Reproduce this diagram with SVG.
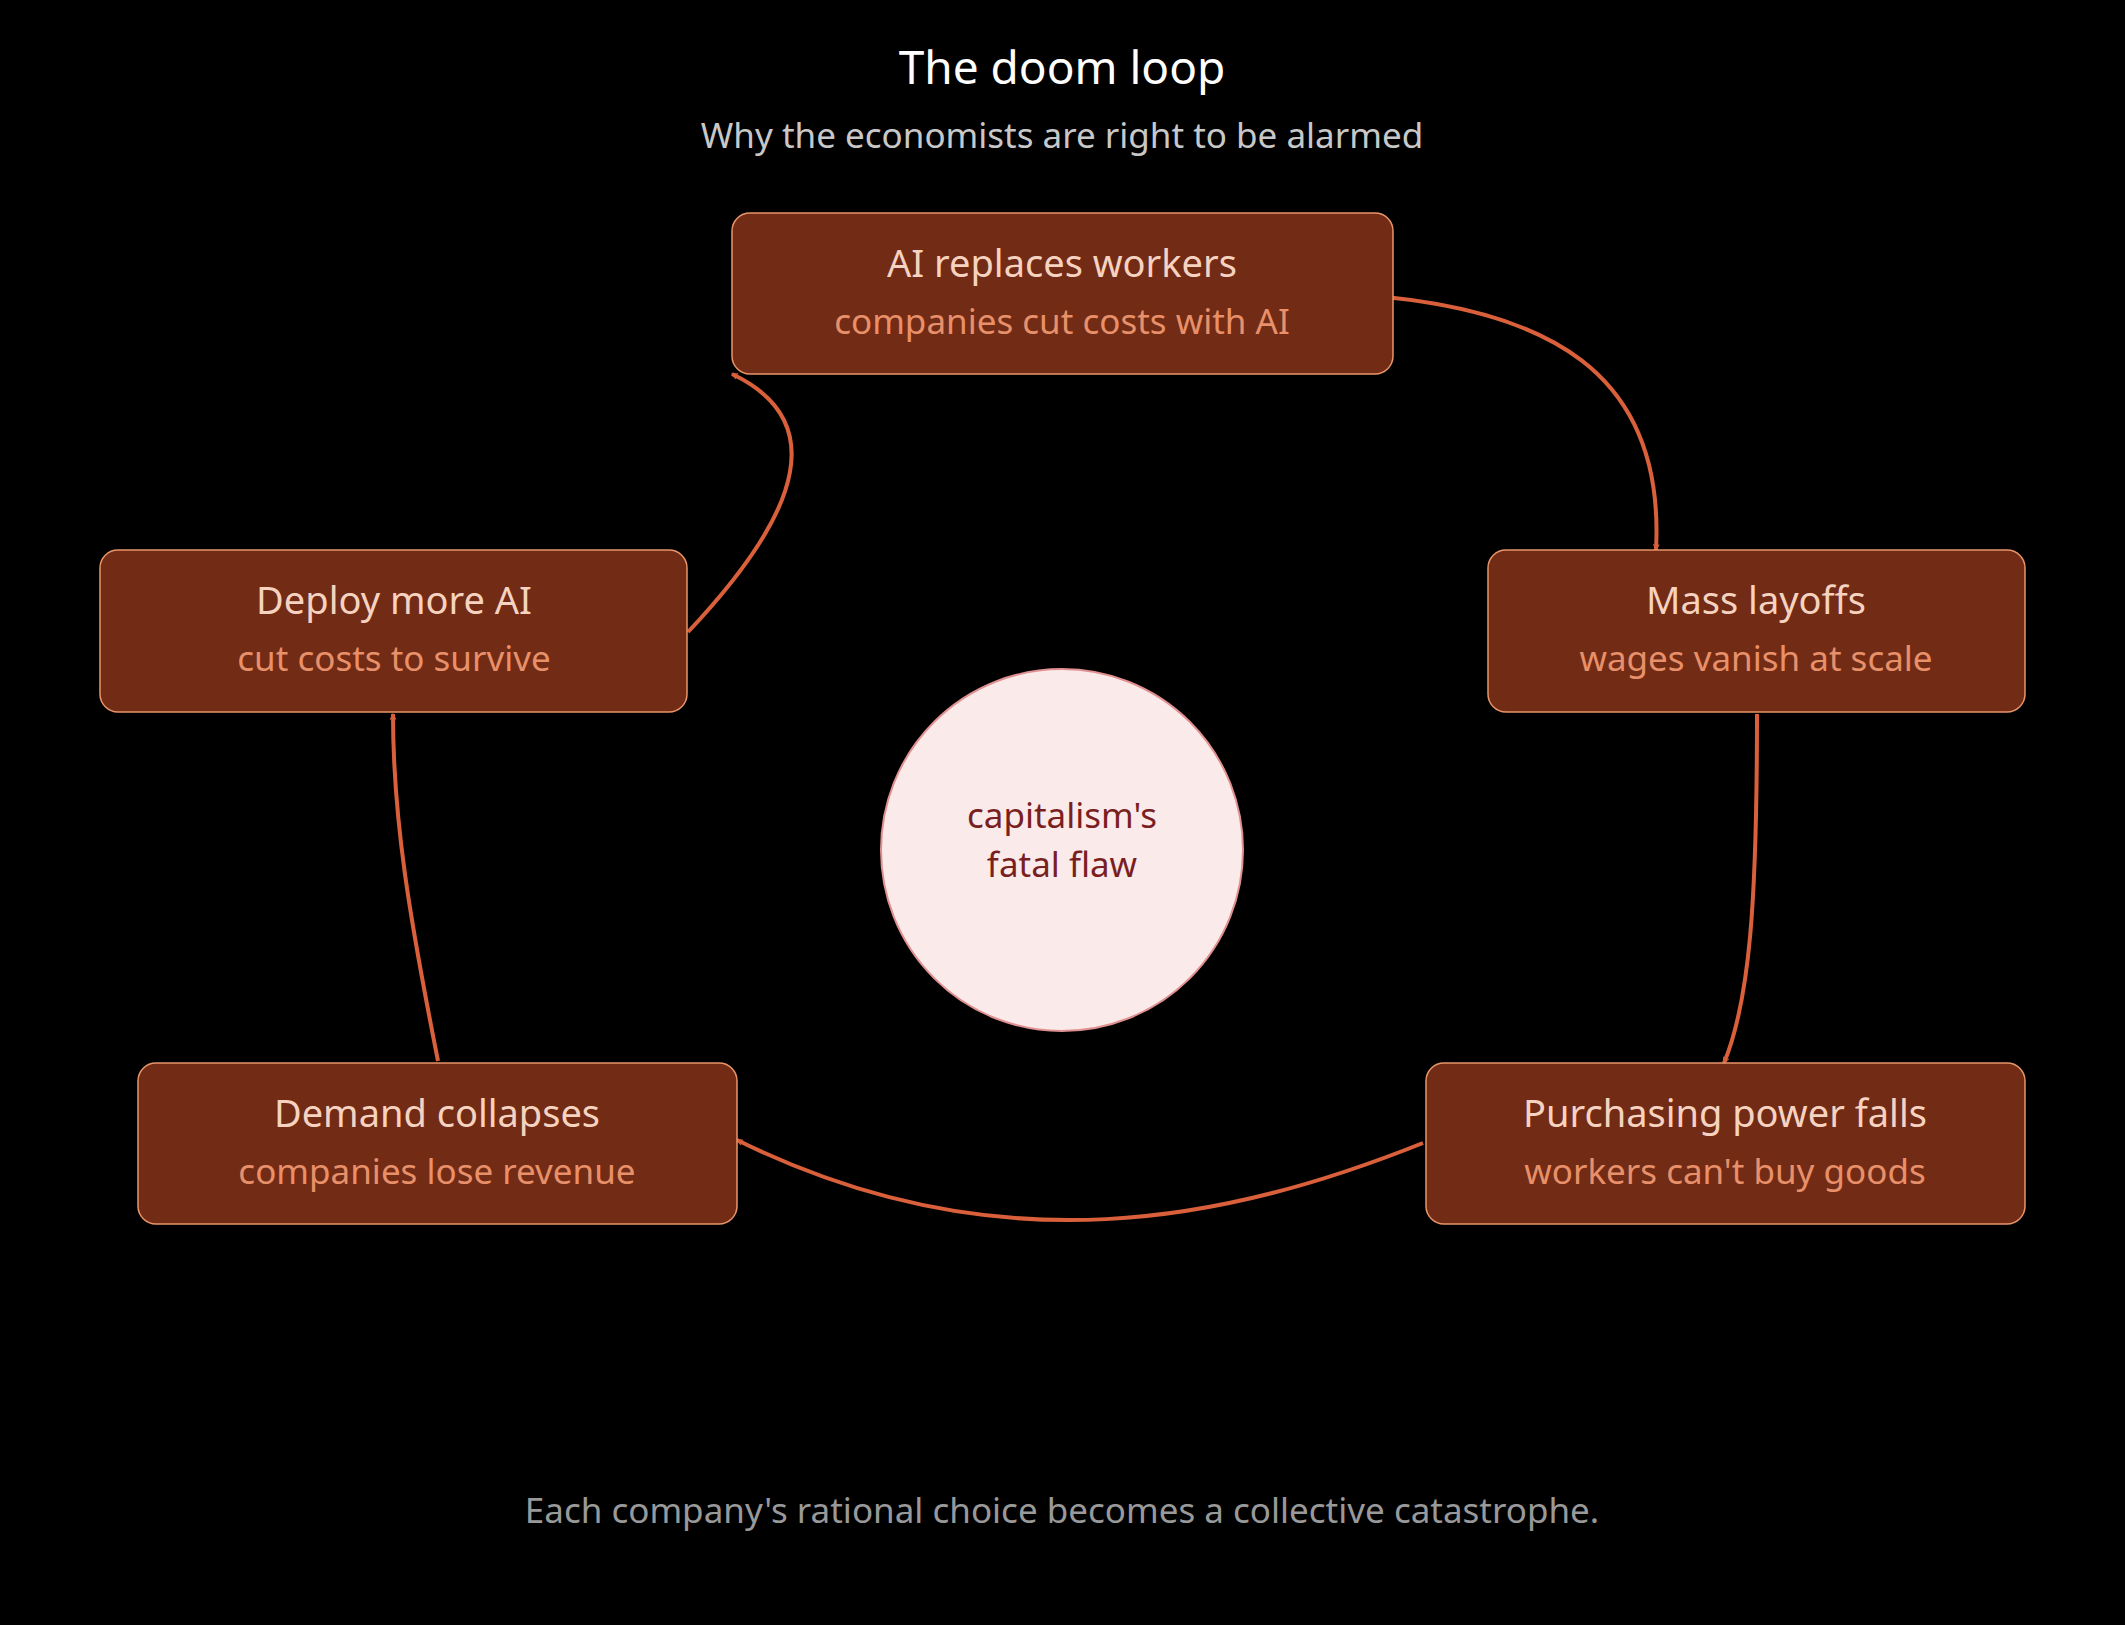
<svg xmlns="http://www.w3.org/2000/svg" width="2125" height="1625" viewBox="0 0 2125 1625">
<style>
text{font-family:"Noto Sans","Open Sans",sans-serif;text-anchor:middle}
.box{fill:#722b15;stroke:#e8956a;stroke-width:1.5}
.t{fill:#f6d3c0;font-size:38px}
.s{fill:#e8906a;font-size:35px}
.e{fill:none;stroke:#d9603a;stroke-width:4}
</style>
<defs>
<marker id="ah" viewBox="0 0 20 20" refX="18" refY="10" markerWidth="7" markerHeight="7" orient="auto" markerUnits="userSpaceOnUse" style="overflow:visible">
<path d="M2,2 L18,10 L2,18" fill="none" stroke="#d9603a" stroke-width="3"/>
</marker>
</defs>
<rect width="2125" height="1625" fill="#000"/>
<text x="1062" y="84" fill="#fff" font-size="46">The doom loop</text>
<text x="1062" y="148" fill="#c8c8c8" font-size="35">Why the economists are right to be alarmed</text>
<g id="connectors">
<path class="e" marker-end="url(#ah)" d="M1321,293 C1560,300 1665,380 1656,550"/>
<path class="e" marker-end="url(#ah)" d="M1757,714 C1757,900 1750,1000 1724,1063"/>
<path class="e" marker-end="url(#ah)" d="M1423,1143 C1230,1220 1000,1270 737,1140"/>
<path class="e" marker-end="url(#ah)" d="M438,1061 C410,920 393,820 393,714"/>
<path class="e" marker-end="url(#ah)" d="M688,632 C770,545 850,430 732,374"/>
</g>
<g id="n1"><rect class="box" x="732" y="213" width="661" height="161" rx="18"/><text class="t" x="1062" y="277">AI replaces workers</text><text class="s" x="1062" y="334">companies cut costs with AI</text></g>
<g id="n2"><rect class="box" x="1488" y="550" width="537" height="162" rx="18"/><text class="t" x="1756" y="614">Mass layoffs</text><text class="s" x="1756" y="671">wages vanish at scale</text></g>
<g id="n3"><rect class="box" x="1426" y="1063" width="599" height="161" rx="18"/><text class="t" x="1725" y="1127">Purchasing power falls</text><text class="s" x="1725" y="1184">workers can't buy goods</text></g>
<g id="n4"><rect class="box" x="138" y="1063" width="599" height="161" rx="18"/><text class="t" x="437" y="1127">Demand collapses</text><text class="s" x="437" y="1184">companies lose revenue</text></g>
<g id="n5"><rect class="box" x="100" y="550" width="587" height="162" rx="18"/><text class="t" x="394" y="614">Deploy more AI</text><text class="s" x="394" y="671">cut costs to survive</text></g>
<g id="center"><circle cx="1062" cy="850" r="181" fill="#fbeaea" stroke="#e09090" stroke-width="2"/><text x="1062" y="828" fill="#7a1f1f" font-size="35">capitalism's</text><text x="1062" y="877" fill="#7a1f1f" font-size="35">fatal flaw</text></g>
<text x="1062" y="1523" fill="#999" font-size="35">Each company's rational choice becomes a collective catastrophe.</text>
</svg>
